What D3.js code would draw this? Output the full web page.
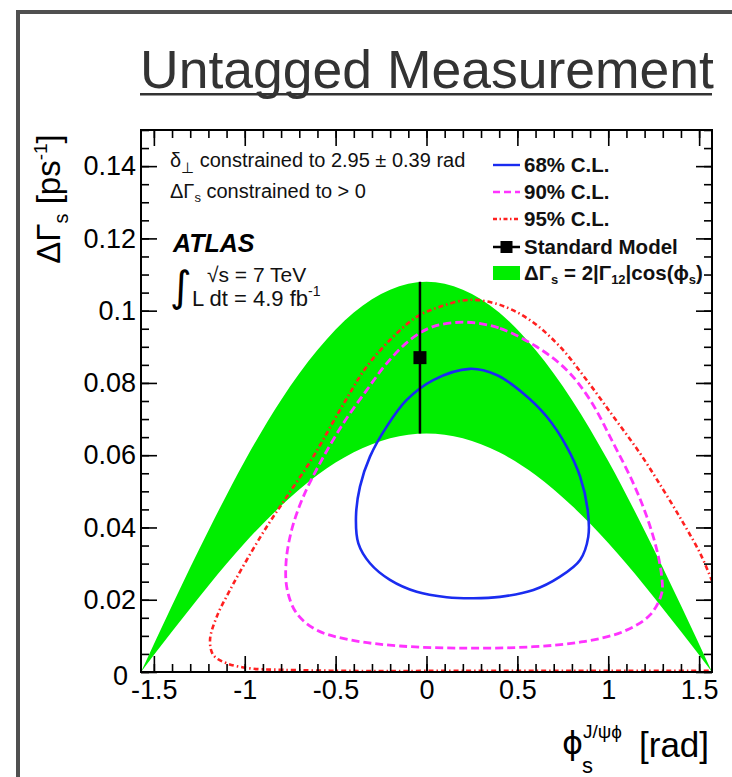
<!DOCTYPE html>
<html>
<head>
<meta charset="utf-8">
<script src="https://cdn.jsdelivr.net/npm/d3@7"></script>
<style>
  html, body { margin: 0; padding: 0; background: #fff; }
  svg { display: block; font-family: "Liberation Sans", Arial, Helvetica, sans-serif; }
</style>
</head>
<body>
<svg id="chart" width="732" height="777"></svg>
<script>
// ---- data -------------------------------------------------------------
// Band ΔΓs = 2|Γ12|cos(φs): sampled edges
const bandPhi   = [-1.5708, -1.4, -1.2, -1.0, -0.8, -0.6, -0.4, -0.2, 0.0, 0.2, 0.4, 0.6, 0.8, 1.0, 1.2, 1.4, 1.5708];
const bandUpper = [0, 0.0184, 0.0391, 0.0584, 0.0753, 0.0891, 0.0995, 0.1058, 0.108, 0.1058, 0.0995, 0.0891, 0.0753, 0.0584, 0.0391, 0.0184, 0];
const bandLower = [0, 0.0112, 0.0239, 0.0357, 0.0460, 0.0545, 0.0608, 0.0647, 0.066, 0.0647, 0.0608, 0.0545, 0.0460, 0.0357, 0.0239, 0.0112, 0];

// 68% C.L. contour (closed)
const cl68Phi   = [0.239, 0.386, 0.533, 0.661, 0.771, 0.845, 0.887, 0.890, 0.845, 0.735, 0.588, 0.404, 0.258, 0.111, -0.054, -0.201, -0.311, -0.375, -0.388, -0.366, -0.311, -0.219, -0.109, 0.037];
const cl68Gamma = [0.0839, 0.0822, 0.0771, 0.0707, 0.0624, 0.0541, 0.0448, 0.0374, 0.0310, 0.0264, 0.0227, 0.0208, 0.0204, 0.0207, 0.0222, 0.0255, 0.0301, 0.0356, 0.0430, 0.0513, 0.0596, 0.0679, 0.0753, 0.0808];

// 90% C.L. contour (closed)
const cl90Phi   = [0.221, 0.404, 0.606, 0.771, 0.900, 1.028, 1.138, 1.212, 1.267, 1.294, 1.294, 1.230, 1.083, 0.863, 0.588, 0.221, -0.146, -0.421, -0.604, -0.714, -0.766, -0.773, -0.742, -0.678, -0.586, -0.458, -0.329, -0.219, -0.091, 0.037];
const cl90Gamma = [0.0968, 0.0951, 0.0900, 0.0836, 0.0753, 0.0633, 0.0522, 0.0430, 0.0338, 0.0264, 0.0218, 0.0158, 0.0112, 0.0084, 0.0070, 0.0066, 0.0072, 0.0089, 0.0116, 0.0162, 0.0227, 0.0301, 0.0393, 0.0485, 0.0578, 0.0688, 0.0780, 0.0854, 0.0919, 0.0956];

// 95% C.L. contour (leaves the range at φs = π/2, runs along ΔΓs ≈ 0)
const cl95Phi   = [1.60, 1.569, 1.505, 1.413, 1.303, 1.175, 1.028, 0.881, 0.735, 0.569, 0.404, 0.239, 0.074, -0.054, -0.183, -0.329, -0.476, -0.623, -0.769, -0.879, -0.989, -1.081, -1.154, -1.191, -1.173, -1.099, -0.971, -0.790, -0.400, 0.0, 0.5, 1.0, 1.60];
const cl95Gamma = [0.0219, 0.0255, 0.0329, 0.0412, 0.0504, 0.0605, 0.0707, 0.0808, 0.0900, 0.0974, 0.1016, 0.1030, 0.1011, 0.0983, 0.0928, 0.0845, 0.0725, 0.0596, 0.0485, 0.0402, 0.0310, 0.0227, 0.0153, 0.0089, 0.0047, 0.0024, 0.0010, 0.0006, 0.0003, 0.0003, 0.0003, 0.0003, 0.0003];

// Standard Model prediction
const smPhi = -0.036, smGamma = 0.087, smGammaErr = 0.021;

// axes
const xMajorTicks = [-1.5, -1, -0.5, 0, 0.5, 1, 1.5];
const xTickLabels = ["-1.5", "-1", "-0.5", "0", "0.5", "1", "1.5"];
const yMajorTicks = [0, 0.02, 0.04, 0.06, 0.08, 0.1, 0.12, 0.14];
const yTickLabels = ["0", "0.02", "0.04", "0.06", "0.08", "0.1", "0.12", "0.14"];

// ---- layout -----------------------------------------------------------
const L = 141, R = 712, T = 130, B = 672;
const svg = d3.select("#chart");
const x = d3.scaleLinear([-Math.PI / 2, Math.PI / 2], [L, R]);
const y = d3.scaleLinear([0, 0.15], [B, T]);

// outer panel border
svg.append("path").attr("d", "M18,777V12H732")
  .attr("fill", "none").attr("stroke", "#505050").attr("stroke-width", 4);

// title
svg.append("text").attr("x", 140).attr("y", 88)
  .attr("font-size", 53.5).attr("fill", "#333")
  .text("Untagged Measurement");
svg.append("rect").attr("x", 140).attr("y", 93).attr("width", 572).attr("height", 2.5).attr("fill", "#333");

// clip
svg.append("clipPath").attr("id", "plotClip")
  .append("rect").attr("x", L).attr("y", T).attr("width", R - L).attr("height", B - T);
const plot = svg.append("g").attr("clip-path", "url(#plotClip)");

// green band
const band = bandPhi.map((p, i) => ({ p, lo: bandLower[i], hi: bandUpper[i] }));
plot.append("path").datum(band)
  .attr("fill", "#00ee00")
  .attr("d", d3.area().x(d => x(d.p)).y0(d => y(d.lo)).y1(d => y(d.hi)).curve(d3.curveMonotoneX));

const zip = (a, b) => a.map((v, i) => [v, b[i]]);
const lineGen = d3.line().x(d => x(d[0])).y(d => y(d[1]));

// 95% (red dash-dot)
plot.append("path")
  .attr("fill", "none").attr("stroke", "#ff2020").attr("stroke-width", 2.6)
  .attr("stroke-dasharray", "5,3,1.5,3")
  .attr("d", lineGen.curve(d3.curveCatmullRom)(zip(cl95Phi, cl95Gamma)));

// 90% (magenta dashed)
plot.append("path")
  .attr("fill", "none").attr("stroke", "#ff33ff").attr("stroke-width", 2.8)
  .attr("stroke-dasharray", "8,4")
  .attr("d", lineGen.curve(d3.curveCatmullRomClosed)(zip(cl90Phi, cl90Gamma)));

// 68% (blue solid)
plot.append("path")
  .attr("fill", "none").attr("stroke", "#1a2cf0").attr("stroke-width", 2.6)
  .attr("d", lineGen.curve(d3.curveCatmullRomClosed)(zip(cl68Phi, cl68Gamma)));

// Standard Model point
plot.append("line")
  .attr("x1", x(smPhi)).attr("x2", x(smPhi))
  .attr("y1", y(smGamma - smGammaErr)).attr("y2", y(smGamma + smGammaErr))
  .attr("stroke", "#000").attr("stroke-width", 2.5);
plot.append("rect")
  .attr("x", x(smPhi) - 6.5).attr("y", y(smGamma) - 6.5).attr("width", 13).attr("height", 13)
  .attr("fill", "#000");

// ---- axes -------------------------------------------------------------
const axes = svg.append("g").attr("class", "axes");
function styleAxis(g) {
  g.select(".domain").remove();
  g.selectAll("line").attr("stroke", "#000").attr("stroke-width", 1.6);
  g.selectAll("text").attr("fill", "#000").attr("font-size", 27).attr("font-family", "Liberation Sans, Arial, sans-serif");
}
const xMinor = x.ticks(30);
const yMinor = y.ticks(30);

axes.append("g").attr("transform", `translate(0,${B})`)
  .call(d3.axisBottom(x).tickValues(xMinor).tickSize(-8).tickFormat("")).call(styleAxis);
axes.append("g").attr("transform", `translate(0,${B})`)
  .call(d3.axisBottom(x).tickValues(xMajorTicks).tickSize(-16).tickPadding(8)
    .tickFormat((d, i) => xTickLabels[i])).call(styleAxis);
axes.append("g").attr("transform", `translate(0,${T})`)
  .call(d3.axisTop(x).tickValues(xMinor).tickSize(-8).tickFormat("")).call(styleAxis);
axes.append("g").attr("transform", `translate(0,${T})`)
  .call(d3.axisTop(x).tickValues(xMajorTicks).tickSize(-16).tickFormat("")).call(styleAxis);

axes.append("g").attr("transform", `translate(${L},0)`)
  .call(d3.axisLeft(y).tickValues(yMinor).tickSize(-8).tickFormat("")).call(styleAxis);
const yAxisG = axes.append("g").attr("transform", `translate(${L},0)`)
  .call(d3.axisLeft(y).tickValues(yMajorTicks).tickSize(-16).tickPadding(5)
    .tickFormat((d, i) => yTickLabels[i])).call(styleAxis);
// the "0" label sits in the corner next to the first x label
yAxisG.selectAll(".tick text").filter(d => d === 0).attr("x", -13).attr("dy", "0.45em");
axes.append("g").attr("transform", `translate(${R},0)`)
  .call(d3.axisRight(y).tickValues(yMinor).tickSize(-8).tickFormat("")).call(styleAxis);
axes.append("g").attr("transform", `translate(${R},0)`)
  .call(d3.axisRight(y).tickValues(yMajorTicks).tickSize(-16).tickFormat("")).call(styleAxis);

// frame
svg.append("rect").attr("x", L).attr("y", T).attr("width", R - L).attr("height", B - T)
  .attr("fill", "none").attr("stroke", "#000").attr("stroke-width", 2);

// axis titles
const yl = svg.append("text").attr("transform", "translate(60,199) rotate(-90)")
  .attr("text-anchor", "middle").attr("font-size", 33).attr("fill", "#000");
yl.append("tspan").text("ΔΓ");
yl.append("tspan").attr("font-size", 20).attr("dy", 8).text("s");
yl.append("tspan").attr("dy", -8).text(" [ps");
yl.append("tspan").attr("font-size", 19).attr("dy", -13).text("-1");
yl.append("tspan").attr("dy", 13).text("]");

svg.append("text").attr("x", 562).attr("y", 754).attr("font-size", 32)
  .attr("font-family", "DejaVu Sans, sans-serif").text("ϕ");
svg.append("text").attr("x", 582).attr("y", 773).attr("font-size", 22).text("s");
svg.append("text").attr("x", 583).attr("y", 738).attr("font-size", 19).text("J/ψϕ");
svg.append("text").attr("x", 639).attr("y", 757).attr("font-size", 35).text("[rad]");

// ---- annotations ------------------------------------------------------
const note = svg.append("g").attr("fill", "#111");
const t1 = note.append("text").attr("x", 170).attr("y", 167).attr("font-size", 20);
t1.append("tspan").text("δ");
t1.append("tspan").attr("font-size", 15).attr("dy", 6).text("⊥");
t1.append("tspan").attr("dy", -6).text(" constrained to 2.95 ± 0.39 rad");
const t2 = note.append("text").attr("x", 170).attr("y", 198).attr("font-size", 20);
t2.append("tspan").text("ΔΓ");
t2.append("tspan").attr("font-size", 13).attr("dy", 4).text("s");
t2.append("tspan").attr("dy", -4).text(" constrained to > 0");

note.append("text").attr("x", 173).attr("y", 252).attr("font-size", 25)
  .attr("font-weight", "bold").attr("font-style", "italic").attr("fill", "#000").text("ATLAS");
note.append("text").attr("x", 170).attr("y", 301).attr("font-size", 42)
  .attr("font-family", "DejaVu Sans, sans-serif").attr("fill", "#000").text("∫");
note.append("text").attr("x", 207).attr("y", 282).attr("font-size", 21).text("√s = 7 TeV");
const t3 = note.append("text").attr("x", 192).attr("y", 306).attr("font-size", 22);
t3.append("tspan").text("L dt = 4.9 fb");
t3.append("tspan").attr("font-size", 14).attr("dy", -10).text("-1");

// ---- legend -----------------------------------------------------------
const legRows = [165, 192, 219, 247, 273];
const lg = svg.append("g");
const lx0 = 493, lx1 = 520, tx = 524;
lg.append("line").attr("x1", lx0).attr("x2", lx1).attr("y1", legRows[0]).attr("y2", legRows[0])
  .attr("stroke", "#1a2cf0").attr("stroke-width", 2.4);
lg.append("line").attr("x1", lx0).attr("x2", lx1).attr("y1", legRows[1]).attr("y2", legRows[1])
  .attr("stroke", "#ff33ff").attr("stroke-width", 2.4).attr("stroke-dasharray", "7,4");
lg.append("line").attr("x1", lx0).attr("x2", lx1).attr("y1", legRows[2]).attr("y2", legRows[2])
  .attr("stroke", "#ff2020").attr("stroke-width", 2.4).attr("stroke-dasharray", "4,2.5,1.5,2.5");
lg.append("line").attr("x1", lx0).attr("x2", lx1).attr("y1", legRows[3]).attr("y2", legRows[3])
  .attr("stroke", "#000").attr("stroke-width", 2.5);
lg.append("rect").attr("x", (lx0 + lx1) / 2 - 6).attr("y", legRows[3] - 6).attr("width", 12).attr("height", 12).attr("fill", "#000");
lg.append("rect").attr("x", lx0).attr("y", legRows[4] - 7).attr("width", lx1 - lx0).attr("height", 14).attr("fill", "#00ee00");

const legTexts = ["68% C.L.", "90% C.L.", "95% C.L.", "Standard Model"];
legTexts.forEach((s, i) => {
  lg.append("text").attr("x", tx).attr("y", legRows[i] + 7).attr("font-size", 20.5)
    .attr("font-weight", "bold").attr("fill", "#111").text(s);
});
const lt = lg.append("text").attr("x", tx).attr("y", legRows[4] + 7).attr("font-size", 20.5)
  .attr("font-weight", "bold").attr("fill", "#111");
lt.append("tspan").text("ΔΓ");
lt.append("tspan").attr("font-size", 13).attr("dy", 4).text("s");
lt.append("tspan").attr("dy", -4).text(" = 2|Γ");
lt.append("tspan").attr("font-size", 13).attr("dy", 4).text("12");
lt.append("tspan").attr("dy", -4).text("|cos(ϕ");
lt.append("tspan").attr("font-size", 13).attr("dy", 4).text("s");
lt.append("tspan").attr("dy", -4).text(")");
</script>
</body>
</html>
